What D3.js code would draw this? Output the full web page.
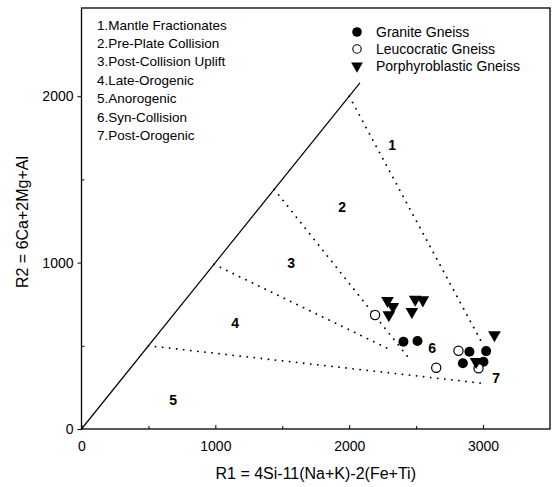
<!DOCTYPE html>
<html><head><meta charset="utf-8">
<script src="https://cdn.jsdelivr.net/npm/d3@7"></script>
<style>body{margin:0;background:#fff}svg{display:block}text{font-family:"Liberation Sans",Arial,sans-serif;fill:#000}</style>
</head><body><svg id="c" width="559" height="487"></svg>
<script>
// ---- data ----
const xTicks = [0, 1000, 2000, 3000];
const xMinor = [500, 1500, 2500];
const yTicks = [0, 1000, 2000];
const yMinor = [500, 1500];
const fieldNames = ["1.Mantle Fractionates","2.Pre-Plate Collision","3.Post-Collision Uplift","4.Late-Orogenic","5.Anorogenic","6.Syn-Collision","7.Post-Orogenic"];
const fieldLabels = ["1","2","3","4","5","6","7"];
const fieldLabelX = [2320, 1947, 1566, 1147, 684, 2620, 3098];
const fieldLabelY = [1705, 1333, 997, 637, 174, 486, 306];
const solidX = [0, 2080];
const solidY = [0, 2080];
const dotStartX = [2000, 1440, 990, 500];
const dotStartY = [2000, 1440, 990, 500];
const dotEndX = [3000, 2433, 2283, 2978];
const dotEndY = [505, 438, 486, 276];
const seriesNames = ["Granite Gneiss", "Leucocratic Gneiss", "Porphyroblastic Gneiss"];
const graniteR1 = [2405, 2510, 2898, 3023, 2849, 3003];
const graniteR2 = [524, 529, 464, 468, 395, 404];
const leucoR1 = [2193, 2816, 2650, 2966];
const leucoR2 = [685, 470, 368, 365];
const porphR1 = [2286, 2326, 2296, 2493, 2550, 2468, 3085, 2948];
const porphR2 = [771, 735, 685, 779, 775, 705, 565, 404];

// ---- chart ----
const svg = d3.select("#c");
const L = 81.5, R = 550, T = 8, B = 429;
const x = d3.scaleLinear().domain([0, 3500]).range([L, R]);
const y = d3.scaleLinear().domain([0, 2530]).range([B, T]);

// axes
const xAx = svg.append("g").attr("transform", `translate(0,${B})`)
  .call(d3.axisBottom(x).tickValues(xTicks).tickSize(-4).tickPadding(12).tickFormat(d3.format("d")));
const xMin = svg.append("g").attr("transform", `translate(0,${B})`)
  .call(d3.axisBottom(x).tickValues(xMinor).tickSize(-3).tickFormat(""));
const yAx = svg.append("g").attr("transform", `translate(${L},0)`)
  .call(d3.axisLeft(y).tickValues(yTicks).tickSize(4).tickPadding(4).tickFormat(d3.format("d")));
const yMin = svg.append("g").attr("transform", `translate(${L},0)`)
  .call(d3.axisLeft(y).tickValues(yMinor).tickSize(-3).tickFormat(""));
[xAx, xMin, yAx, yMin].forEach(g => {
  g.select(".domain").remove();
  g.selectAll("line").attr("stroke", "#000").attr("stroke-width", 1);
  g.selectAll("text").style("font-size", "14px").attr("fill", "#000");
});
svg.append("rect").attr("x", L).attr("y", T).attr("width", R - L).attr("height", B - T)
  .attr("fill", "none").attr("stroke", "#000").attr("stroke-width", 1.3);

// solid line
svg.append("line").attr("x1", x(solidX[0])).attr("y1", y(solidY[0]))
  .attr("x2", x(solidX[1])).attr("y2", y(solidY[1])).attr("stroke", "#000").attr("stroke-width", 1.2);

// dotted field boundaries
dotStartX.forEach((d, i) => {
  svg.append("line").attr("x1", x(d)).attr("y1", y(dotStartY[i]))
    .attr("x2", x(dotEndX[i])).attr("y2", y(dotEndY[i]))
    .attr("stroke", "#000").attr("stroke-width", 1.8).attr("stroke-linecap", "round")
    .attr("stroke-dasharray", "0.1,7");
});

// field numbers
fieldLabels.forEach((t, i) => {
  svg.append("text").attr("x", x(fieldLabelX[i])).attr("y", y(fieldLabelY[i]))
    .attr("text-anchor", "middle").attr("dominant-baseline", "central")
    .style("font-size", "14px").style("font-weight", "bold").text(t);
});

// field name list
fieldNames.forEach((t, i) => {
  svg.append("text").attr("x", 97).attr("y", 25 + i * 18.4).attr("dominant-baseline", "central")
    .style("font-size", "13.5px").text(t);
});

// symbols
const tri = d3.symbol().type(d3.symbolTriangle).size(70);
function drawSeries(xs, ys, kind) {
  xs.forEach((v, i) => {
    const px = x(v), py = y(ys[i]);
    if (kind === 0) svg.append("circle").attr("cx", px).attr("cy", py).attr("r", 5).attr("fill", "#000");
    else if (kind === 1) svg.append("circle").attr("cx", px).attr("cy", py).attr("r", 4.6).attr("fill", "#fff").attr("stroke", "#000").attr("stroke-width", 1.2);
    else svg.append("path").attr("d", tri).attr("transform", `translate(${px},${py}) rotate(180)`).attr("fill", "#000");
  });
}
drawSeries(graniteR1, graniteR2, 0);
drawSeries(leucoR1, leucoR2, 1);
drawSeries(porphR1, porphR2, 2);

// legend
const lgX = 357, lgY = 32, lgDy = 17;
seriesNames.forEach((n, i) => {
  const cy = lgY + i * lgDy;
  const g = svg.append("g").attr("transform", `translate(${lgX},${cy})`);
  if (i === 0) g.append("circle").attr("r", 4.8).attr("fill", "#000");
  else if (i === 1) g.append("circle").attr("r", 4.2).attr("fill", "#fff").attr("stroke", "#000").attr("stroke-width", 1.1);
  else g.append("path").attr("d", d3.symbol().type(d3.symbolTriangle).size(60)).attr("transform", "rotate(180)").attr("fill", "#000");
  svg.append("text").attr("x", lgX + 19).attr("y", cy).attr("dominant-baseline", "central")
    .style("font-size", "14px").text(n);
});

// axis titles
svg.append("text").attr("x", (L + R) / 2).attr("y", 479).attr("text-anchor", "middle")
  .style("font-size", "16px").text("R1 =  4Si-11(Na+K)-2(Fe+Ti)");
svg.append("text").attr("transform", `translate(22,222) rotate(-90)`).attr("text-anchor", "middle")
  .attr("dominant-baseline", "central").style("font-size", "16px").text("R2 = 6Ca+2Mg+Al");
</script></body></html>
